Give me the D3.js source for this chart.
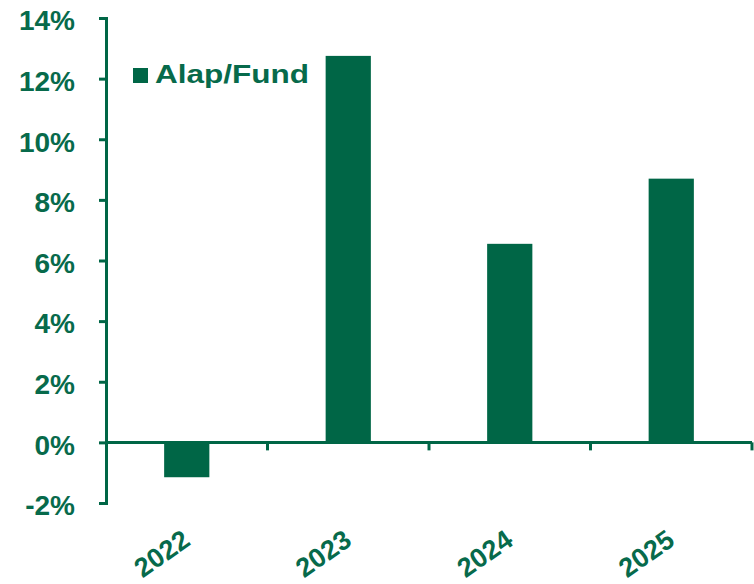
<!DOCTYPE html>
<html>
<head>
<meta charset="utf-8">
<script src="https://cdn.jsdelivr.net/npm/d3@7"></script>
<style>
  body { margin: 0; background: #fff; }
  text { font-family: "Liberation Sans", Arial, sans-serif; font-weight: bold; fill: #076a4b; }
</style>
</head>
<body>
<svg id="chart" width="754" height="584"></svg>
<script>
// data
var years = ["2022", "2023", "2024", "2025"];
var values = [-1.15, 12.75, 6.55, 8.7];
var yTicks = [-2, 0, 2, 4, 6, 8, 10, 12, 14];
var seriesName = "Alap/Fund";

var green = "#006646";
var svg = d3.select("#chart");

var x = d3.scaleBand().domain(years).range([106, 752]).paddingInner(0.72).paddingOuter(0.36);
var y = d3.scaleLinear().domain([-2, 14]).range([503, 18]);

// y axis
var yAxis = svg.append("g").attr("transform", "translate(106,0)")
  .call(d3.axisLeft(y).tickValues(yTicks).tickSize(7).tickPadding(24)
    .tickFormat(function (d) { return d + "%"; }));
yAxis.select(".domain").attr("stroke", green).attr("stroke-width", 3);
yAxis.selectAll(".tick line").attr("stroke", green).attr("stroke-width", 3);
yAxis.selectAll(".tick text").style("font-size", "28px").attr("fill", "#076a4b").attr("dy", "0.42em");

// bars
svg.selectAll(".bar")
  .data(values)
  .enter().append("rect")
  .attr("class", "bar")
  .attr("x", function (d, i) { return x(years[i]); })
  .attr("width", x.bandwidth())
  .attr("y", function (d) { return y(Math.max(0, d)); })
  .attr("height", function (d) { return Math.abs(y(d) - y(0)); })
  .attr("fill", green);

// zero line with category ticks
var step = x.step();
svg.append("line")
  .attr("x1", 106).attr("x2", 752)
  .attr("y1", y(0)).attr("y2", y(0))
  .attr("stroke", green).attr("stroke-width", 3);
svg.selectAll(".xtick")
  .data(years)
  .enter().append("line")
  .attr("class", "xtick")
  .attr("x1", function (d) { return x(d) + x.bandwidth() / 2 + step / 2; })
  .attr("x2", function (d) { return x(d) + x.bandwidth() / 2 + step / 2; })
  .attr("y1", y(0)).attr("y2", y(0) + 8)
  .attr("stroke", green).attr("stroke-width", 3);

// x labels
svg.selectAll(".xlabel")
  .data(years)
  .enter().append("text")
  .attr("class", "xlabel")
  .attr("text-anchor", "end")
  .style("font-size", "27px")
  .attr("transform", function (d) {
    return "translate(" + (x(d) + x.bandwidth() / 2 + 5) + ",544) rotate(-35)";
  })
  .text(function (d) { return d; });

// legend
svg.append("rect").attr("x", 133).attr("y", 68).attr("width", 15).attr("height", 15).attr("fill", green);
svg.append("text").attr("x", 155).attr("y", 83).style("font-size", "26px")
  .attr("textLength", 154).attr("lengthAdjust", "spacingAndGlyphs").text(seriesName);
</script>
</body>
</html>
